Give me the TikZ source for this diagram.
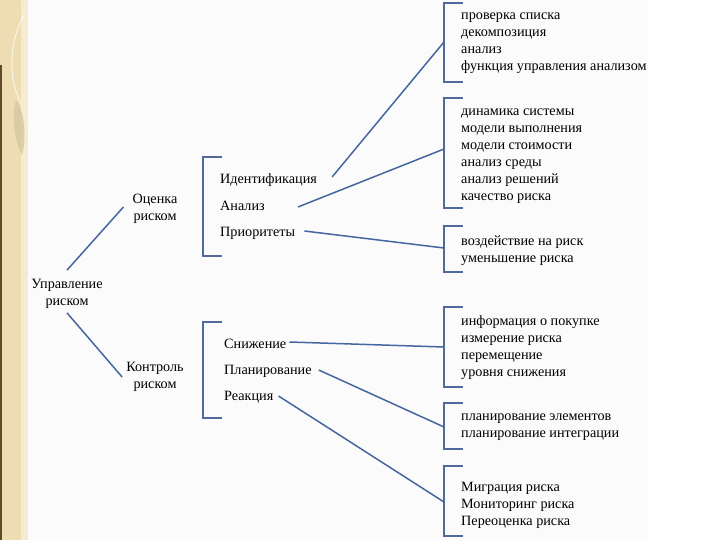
\documentclass[tikz,border=0pt]{standalone}
\usepackage{fontspec}
\setmainfont{Liberation Serif}
\definecolor{linkblue}{RGB}{70,102,160}
\definecolor{slidebg}{RGB}{251,251,251}
\definecolor{stripbeige}{RGB}{238,221,178}
\definecolor{stripdark}{RGB}{96,74,44}

\begin{document}
\begin{tikzpicture}[x=1pt,y=-1pt,
  txt/.style={font=\fontsize{14.2}{17}\selectfont,inner sep=0pt},
  grp/.style={txt,align=center},
  item/.style={txt,anchor=west},
  lst/.style={txt,align=left,anchor=west},
  link/.style={linkblue,line width=1.5pt},
  brk/.style={linkblue!85!gray,line width=1.9pt}]
\useasboundingbox (0,0) rectangle (720,540);
% background of the slide
\fill[white] (0,0) rectangle (720,540);
\fill[slidebg] (28,0) rectangle (648,540);
\fill[stripbeige] (0,0) rectangle (28,540);
\fill[stripbeige!60!white] (21,0) rectangle (28,540);
\fill[stripdark] (0,65) rectangle (2,540);
\draw[white,opacity=0.7,line width=1pt] (24,15) .. controls (8,45) and (8,80) .. (22,105);
\fill[black!10!stripbeige,opacity=0.8] (16,100) .. controls (26,115) and (26,140) .. (22,155) .. controls (14,140) and (12,115) .. (16,100);

% left part
\node[grp] (root) at (67,294) {Управление\\риском};
\node[grp] (assess) at (155,209) {Оценка\\риском};
\node[grp] (ctrl) at (155,377) {Контроль\\риском};
\draw[link] ([yshift=9pt]root.north) -- ([xshift=-9pt,yshift=2pt]assess.west);
\draw[link] ([yshift=-4pt]root.south) -- ([xshift=-4pt]ctrl.west);

% middle brackets
\draw[brk] (222,157) -- (203,157) -- (203,256) -- (222,256);
\draw[brk] (222,322) -- (203,322) -- (203,418) -- (222,418);
\node[item] (ident) at (220,180) {Идентификация};
\node[item] (anal) at (220,206) {Анализ};
\node[item] (prio) at (220,233) {Приоритеты};
\node[item] (reduce) at (224,344) {Снижение};
\node[item] (plan) at (224,371) {Планирование};
\node[item] (react) at (224,397) {Реакция};

% right brackets
\draw[brk] (463,3) -- (444,3) -- (444,82) -- (463,82);
\draw[brk] (463,98) -- (444,98) -- (444,208) -- (463,208);
\draw[brk] (463,226) -- (444,226) -- (444,272) -- (463,272);
\draw[brk] (463,307) -- (444,307) -- (444,387) -- (463,387);
\draw[brk] (463,403) -- (444,403) -- (444,449) -- (463,449);
\draw[brk] (463,466) -- (444,466) -- (444,536) -- (463,536);
\coordinate (hitA) at (444,42);
\coordinate (hitB) at (444,149);
\coordinate (hitC) at (444,248);
\coordinate (hitD) at (444,347);
\coordinate (hitE) at (444,427);
\coordinate (hitF) at (444,502);

\node[lst] (listA) at (461,43.5) {проверка списка\\декомпозиция\\анализ\\функция управления анализом};
\node[lst] (listB) at (461,156) {динамика системы\\модели выполнения\\модели стоимости\\анализ среды\\анализ решений\\качество риска};
\node[lst] (listC) at (461,251) {воздействие на риск\\уменьшение риска};
\node[lst] (listD) at (461,348) {информация о покупке\\измерение риска\\перемещение\\уровня снижения};
\node[lst] (listE) at (461,427) {планирование элементов\\планирование интеграции};
\node[lst] (listF) at (461,505) {Миграция риска\\Мониторинг риска\\Переоценка риска};

% connectors
\draw[link] ([xshift=15pt,yshift=3pt]ident.east) -- (hitA);
\draw[link] ([xshift=33pt,yshift=-1pt]anal.east) -- (hitB);
\draw[link] ([xshift=9pt,yshift=2pt]prio.east) -- (hitC);
\draw[link] ([xshift=3pt,yshift=2pt]reduce.east) -- (hitD);
\draw[link] ([xshift=7pt,yshift=1pt]plan.east) -- (hitE);
\draw[link] ([xshift=5pt,yshift=1pt]react.east) -- (hitF);
\end{tikzpicture}
\end{document}
